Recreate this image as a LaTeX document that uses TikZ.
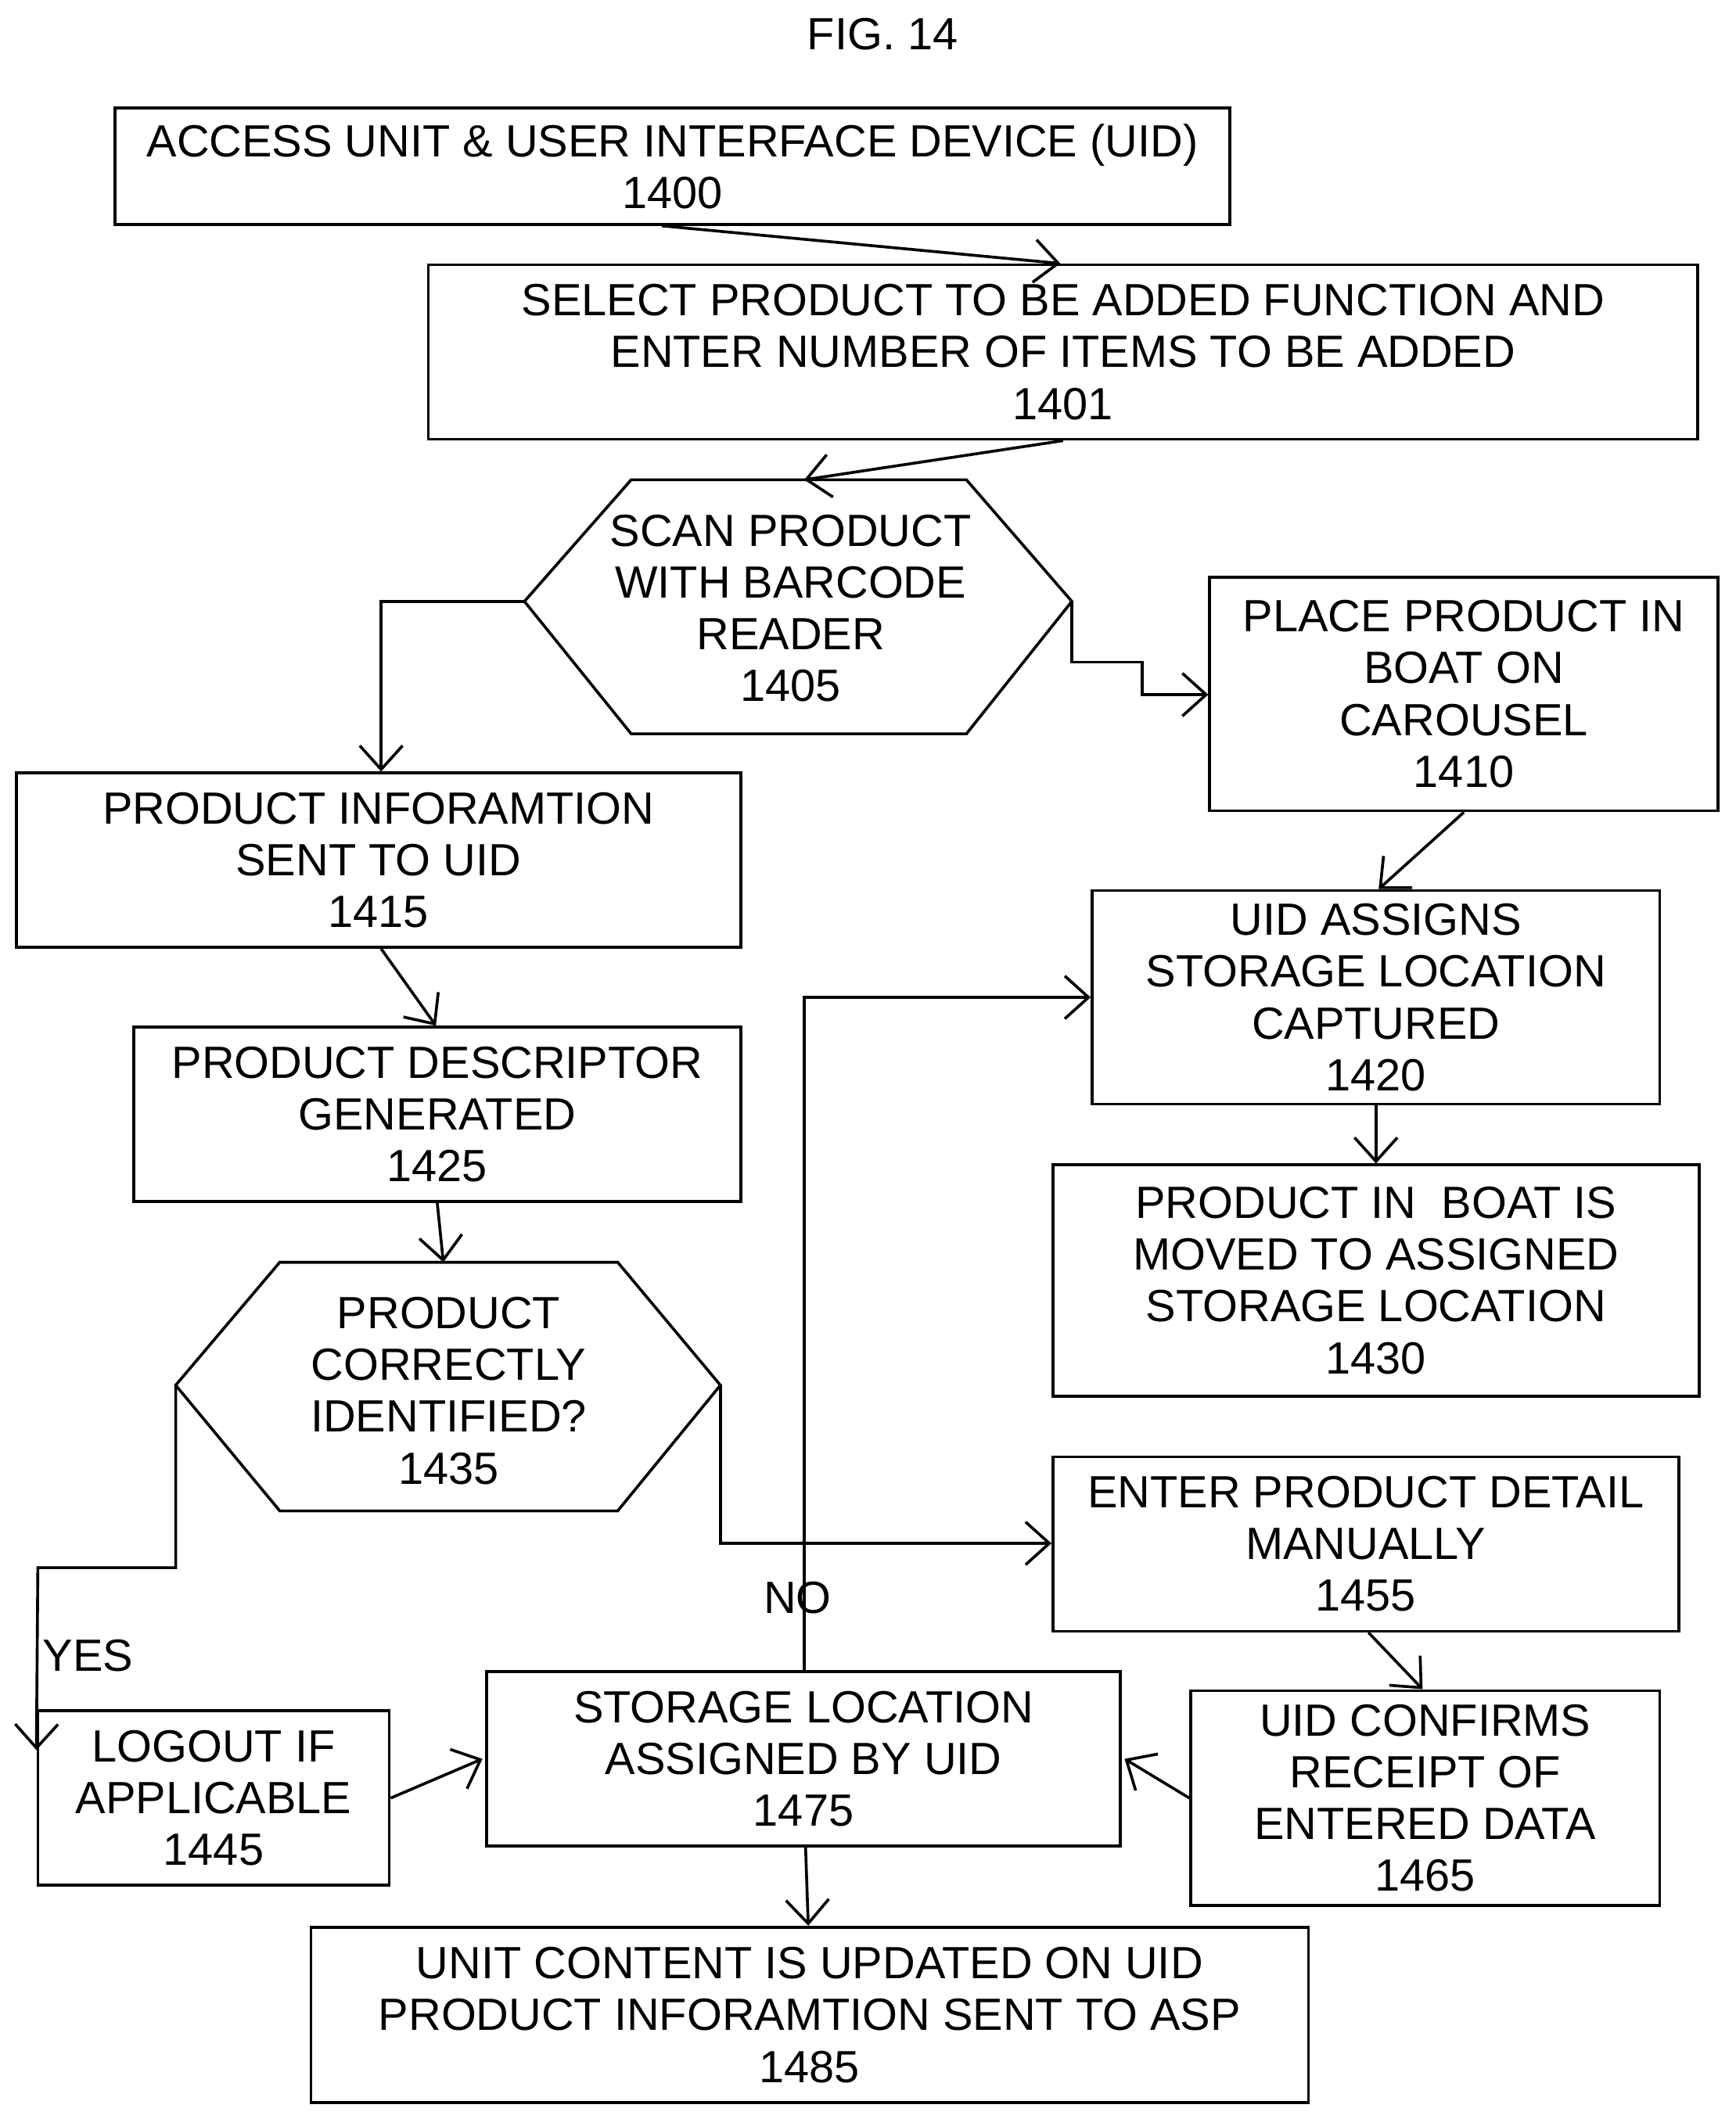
\documentclass[tikz,border=0pt]{standalone}
\usepackage{fontspec}
\setmainfont{Liberation Sans}
\usetikzlibrary{arrows.meta}
\usetikzlibrary{calc}

\tikzset{
  box/.style={draw,rectangle,line width=0.6pt,align=center,inner sep=0pt,
    font=\fontsize{9.5}{10.9}\selectfont},
  sz/.style n args={2}{minimum width=#1*0.01cm,minimum height=#2*0.01cm},
  txt/.style={align=center,inner sep=0pt,font=\fontsize{9.5}{10.9}\selectfont},
  flow/.style={line width=0.6pt,-{Straight Barb[length=5pt,width=9pt]}},
}

\begin{document}
\begin{tikzpicture}[x=0.01cm,y=-0.01cm]
  \useasboundingbox (0,0) rectangle (1284,1568);

  \node [txt] (fig) at (653,25) {FIG. 14};

  % boxes
  \node [box,sz={825}{86}] (b1400) at (497.5,123) {ACCESS UNIT \& USER INTERFACE DEVICE (UID)\\1400};
  \node [box,sz={939}{129}] (b1401) at (786.5,260.5) {SELECT PRODUCT TO BE ADDED FUNCTION AND\\ENTER NUMBER OF ITEMS TO BE ADDED\\1401};
  \node [box,sz={376}{173}] (b1410) at (1083,513.5) {PLACE PRODUCT IN\\BOAT ON\\CAROUSEL\\1410};
  \node [box,sz={536}{129}] (b1415) at (280,636.5) {PRODUCT INFORAMTION\\SENT TO UID\\1415};
  \node [box,sz={420}{158}] (b1420) at (1018,738) {UID ASSIGNS\\STORAGE LOCATION\\CAPTURED\\1420};
  \node [box,sz={449}{129}] (b1425) at (323.5,824.5) {PRODUCT DESCRIPTOR\\GENERATED\\1425};
  \node [box,sz={478}{171}] (b1430) at (1018,947.5) {PRODUCT IN\ \ BOAT IS\\MOVED TO ASSIGNED\\STORAGE LOCATION\\1430};
  \node [box,sz={463}{129}] (b1455) at (1010.5,1142.5) {ENTER PRODUCT DETAIL\\MANUALLY\\1455};
  \node [box,sz={347}{159}] (b1465) at (1054.5,1330.5) {UID CONFIRMS\\RECEIPT OF\\ENTERED DATA\\1465};
  \node [box,sz={260}{129}] (b1445) at (158,1330.5) {LOGOUT IF\\APPLICABLE\\1445};
  \node [box,sz={469}{129}] (b1475) at (594.5,1301.5) {STORAGE LOCATION\\ASSIGNED BY UID\\1475};
  \node [box,sz={738}{130}] (b1485) at (599,1491) {UNIT CONTENT IS UPDATED ON UID\\PRODUCT INFORAMTION SENT TO ASP\\1485};

  % hexagons
  \draw [line width=0.6pt] (467,355) -- (715,355) -- (793,445) coordinate (h1405r)
    -- (715,543) -- (467,543) -- (388,445) coordinate (h1405l) -- cycle;
  \node [txt] (h1405) at (585,450) {SCAN PRODUCT\\WITH BARCODE\\READER\\1405};
  \coordinate (h1405t) at (595,355);

  \draw [line width=0.6pt] (207,934) -- (457,934) -- (533,1025) coordinate (h1435r)
    -- (457,1118) -- (207,1118) -- (130,1025) coordinate (h1435l) -- cycle;
  \node [txt] (h1435) at (332,1029) {PRODUCT\\CORRECTLY\\IDENTIFIED?\\1435};
  \coordinate (h1435t) at (328,934);

  % connectors
  \draw [flow] ($(b1400.south)+(-8,0)$) -- ($(b1401.north)+(-2,0)$);
  \draw [flow] (b1401.south) -- (h1405t);
  \draw [flow] (h1405l) -| ($(b1415.north)+(2,0)$);
  \draw [flow] (h1405r) -- ++(0,45) -- ++(52,0) -- ++(0,24) -- (b1410.west |- 0,514);
  \draw [flow] (b1410.south) -- ($(b1420.north)+(2,0)$);
  \draw [flow] ($(b1415.south)+(2,0)$) -- ($(b1425.north)+(-1,0)$);
  \draw [flow] (b1420.south) -- (b1430.north);
  \draw [flow] (b1425.south) -- (h1435t);
  \draw [flow] (h1435r) |- (b1455.west |- 0,1142);
  \draw [flow] (h1435l) -- ++(0,135) -- ++(-102,0) -- (b1445.north west |- 0,1295);
  \draw [flow] ($(b1455.south)+(2,0)$) -- ($(b1465.north)+(-2,0)$);
  \draw [flow] (b1465.west) -- ($(b1475.east)+(2,0)$);
  \draw [flow] (b1445.east) -- ($(b1475.west)+(-2,0)$);
  \draw [flow] ($(b1475.north)+(0.5,0)$) |- (b1420.west |- 0,738);
  \draw [flow] ($(b1475.south)+(1.5,0)$) -- ($(b1485.north)+(-1,0)$);

  \node [txt] (yes) at (65,1225) {YES};
  \node [txt] (no) at (590,1182) {NO};
\end{tikzpicture}
\end{document}
